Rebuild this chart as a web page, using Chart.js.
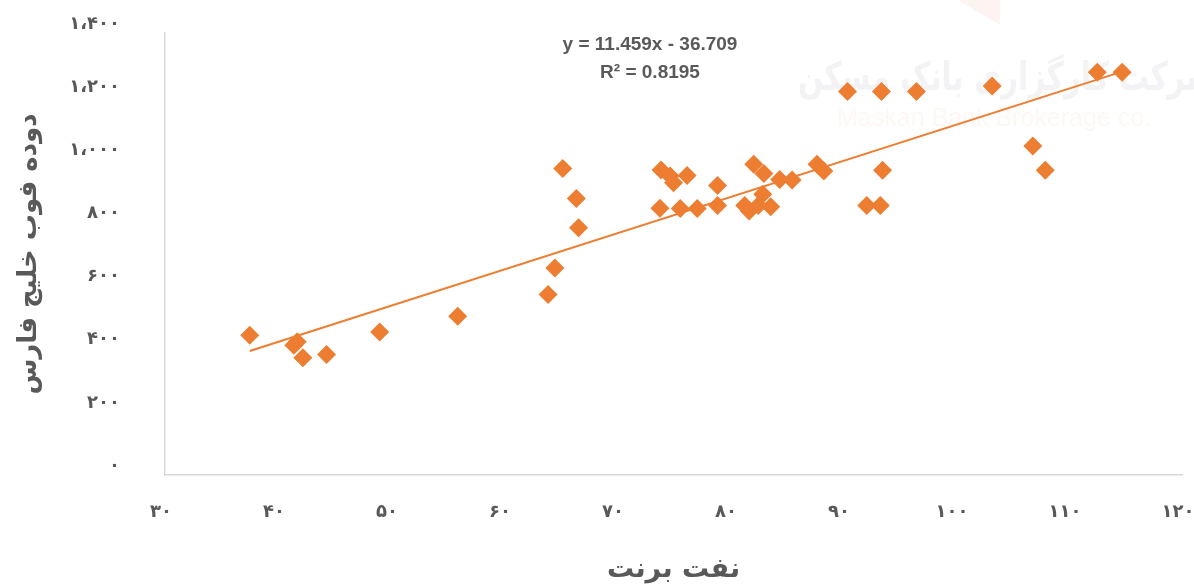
<!DOCTYPE html>
<html>
<head>
<meta charset="utf-8">
<script src="https://cdn.jsdelivr.net/npm/chart.js@4.4.1/dist/chart.umd.min.js"></script>
<style>
  html, body { margin: 0; padding: 0; background: #fff; }
  #wrap { width: 1194px; height: 586px; position: relative; }
</style>
</head>
<body>
<div id="wrap"><canvas id="chart"></canvas></div>
<script>
// Brent crude (x) vs. Persian Gulf FOB carbon black (y)
const brentPrices = [
  37.5, 41.4, 41.7, 42.2, 44.3, 49.0, 55.9, 63.9, 64.5, 65.2, 66.4, 66.6,
  73.9, 73.8, 74.7, 75.0, 76.2, 75.6, 77.1, 78.9, 78.9, 81.3, 81.7, 82.1,
  83.0, 82.9, 82.5, 83.6, 84.4, 85.5, 87.7, 88.3, 90.4, 93.4, 96.5, 103.2,
  112.5, 114.7, 93.5, 92.1, 93.3, 106.8, 107.9
];
const carbonBlackPrices = [
  443, 411, 422, 371, 382, 453, 503, 572, 656, 971, 876, 783,
  966, 845, 947, 926, 949, 844, 844, 917, 854, 854, 836, 984,
  955, 889, 854, 850, 936, 934, 984, 963, 1215, 1215, 1215, 1232,
  1276, 1276, 965, 854, 854, 1042, 965
];

// trendline shown on the chart
const trendSlope = 11.459;
const trendIntercept = -36.709;
const trendLabel = ['y = 11.459x - 36.709', 'R² = 0.8195'];

const xTickValues = [30, 40, 50, 60, 70, 80, 90, 100, 110, 120];
const xTickLabels = ['۳۰', '۴۰', '۵۰', '۶۰', '۷۰', '۸۰', '۹۰', '۱۰۰', '۱۱۰', '۱۲۰'];
const yTickValues = [0, 200, 400, 600, 800, 1000, 1200, 1400];
const yTickLabels = ['۰', '۲۰۰', '۴۰۰', '۶۰۰', '۸۰۰', '۱،۰۰۰', '۱،۲۰۰', '۱،۴۰۰'];

const xTitle = 'نفت برنت';
const yTitle = 'دوده فوب خلیج فارس';

const ORANGE = '#ED7D31';
const TEXT = '#595959';
const AXIS = '#D9D9D9';

const points = brentPrices.map((x, i) => ({ x: x, y: carbonBlackPrices[i] }));
const xMin = Math.min(...brentPrices);
const xMax = Math.max(...brentPrices);
const trendPoints = [
  { x: xMin, y: trendSlope * xMin + trendIntercept },
  { x: xMax, y: trendSlope * xMax + trendIntercept }
];

// watermark behind the points, equation on top
const overlayPlugin = {
  id: 'overlay',
  beforeDatasetsDraw(chart) {
    const ctx = chart.ctx;
    ctx.save();
    ctx.fillStyle = '#FDF3F1';
    ctx.beginPath();
    ctx.moveTo(958, 0);
    ctx.lineTo(1000, 0);
    ctx.lineTo(1000, 25);
    ctx.closePath();
    ctx.fill();

    ctx.save();
    ctx.translate(1215, 80);
    ctx.scale(0.82, 1.1);
    ctx.direction = 'rtl';
    ctx.textAlign = 'right';
    ctx.textBaseline = 'middle';
    ctx.fillStyle = '#F3F3F5';
    ctx.font = 'bold 36px "DejaVu Sans"';
    ctx.fillText('شرکت کارگزاری بانک مسکن', 0, 0);
    ctx.restore();

    ctx.direction = 'ltr';
    ctx.textAlign = 'left';
    ctx.textBaseline = 'middle';
    ctx.fillStyle = '#FEF7F4';
    ctx.font = '25px "Liberation Sans"';
    ctx.fillText('Maskan Bank Brokerage co.', 837, 119);
    ctx.restore();
  },
  afterDraw(chart) {
    const ctx = chart.ctx;
    ctx.save();
    ctx.fillStyle = TEXT;
    ctx.textAlign = 'center';
    ctx.textBaseline = 'middle';
    ctx.font = 'bold 19px "Liberation Sans"';
    ctx.fillText(trendLabel[0], 650, 45);
    ctx.fillText(trendLabel[1], 650, 73);
    ctx.restore();
  }
};

new Chart(document.getElementById('chart'), {
  type: 'scatter',
  data: {
    datasets: [
      {
        label: 'data',
        data: points,
        pointStyle: 'rectRot',
        pointRadius: 9.5,
        pointHoverRadius: 9.5,
        backgroundColor: ORANGE,
        borderColor: ORANGE,
        borderWidth: 0,
        order: 2
      },
      {
        label: 'trend',
        data: trendPoints,
        showLine: true,
        borderColor: ORANGE,
        borderWidth: 2,
        pointRadius: 0,
        order: 1
      }
    ]
  },
  options: {
    responsive: true,
    maintainAspectRatio: false,
    animation: false,
    layout: { padding: { top: 33, right: 12, left: 0, bottom: 0 } },
    plugins: { legend: { display: false }, tooltip: { enabled: false } },
    scales: {
      x: {
        type: 'linear',
        min: 30,
        max: 120,
        afterBuildTicks: s => { s.ticks = xTickValues.map(v => ({ value: v })); },
        afterFit: s => { s.height = 111; s.paddingLeft = 0; s.paddingRight = 0; },
        grid: { display: false, drawTicks: false },
        border: { color: AXIS, width: 1.5 },
        ticks: {
          padding: 27,
          labelOffset: -4,
          color: TEXT,
          font: { family: '"DejaVu Sans"', size: 18, weight: 'bold' },
          callback: v => xTickLabels[xTickValues.indexOf(v)]
        },
        title: {
          display: true,
          text: xTitle,
          color: TEXT,
          font: { family: '"DejaVu Sans"', size: 27, weight: 'bold' },
          padding: { top: 0, bottom: 0 }
        }
      },
      y: {
        min: 0,
        max: 1400,
        afterBuildTicks: s => { s.ticks = yTickValues.map(v => ({ value: v })); },
        afterFit: s => { s.width = 165; s.paddingTop = 0; s.paddingBottom = 0; },
        grid: { display: false, drawTicks: false },
        border: { color: AXIS, width: 1.5 },
        ticks: {
          padding: 45,
          labelOffset: -9,
          color: TEXT,
          font: { family: '"DejaVu Sans"', size: 18, weight: 'bold' },
          callback: v => yTickLabels[yTickValues.indexOf(v)]
        },
        title: {
          display: true,
          text: yTitle,
          color: TEXT,
          font: { family: '"DejaVu Sans"', size: 26, weight: 'bold' },
          padding: { top: 14, bottom: 0 }
        }
      }
    }
  },
  plugins: [overlayPlugin]
});
</script>
</body>
</html>
